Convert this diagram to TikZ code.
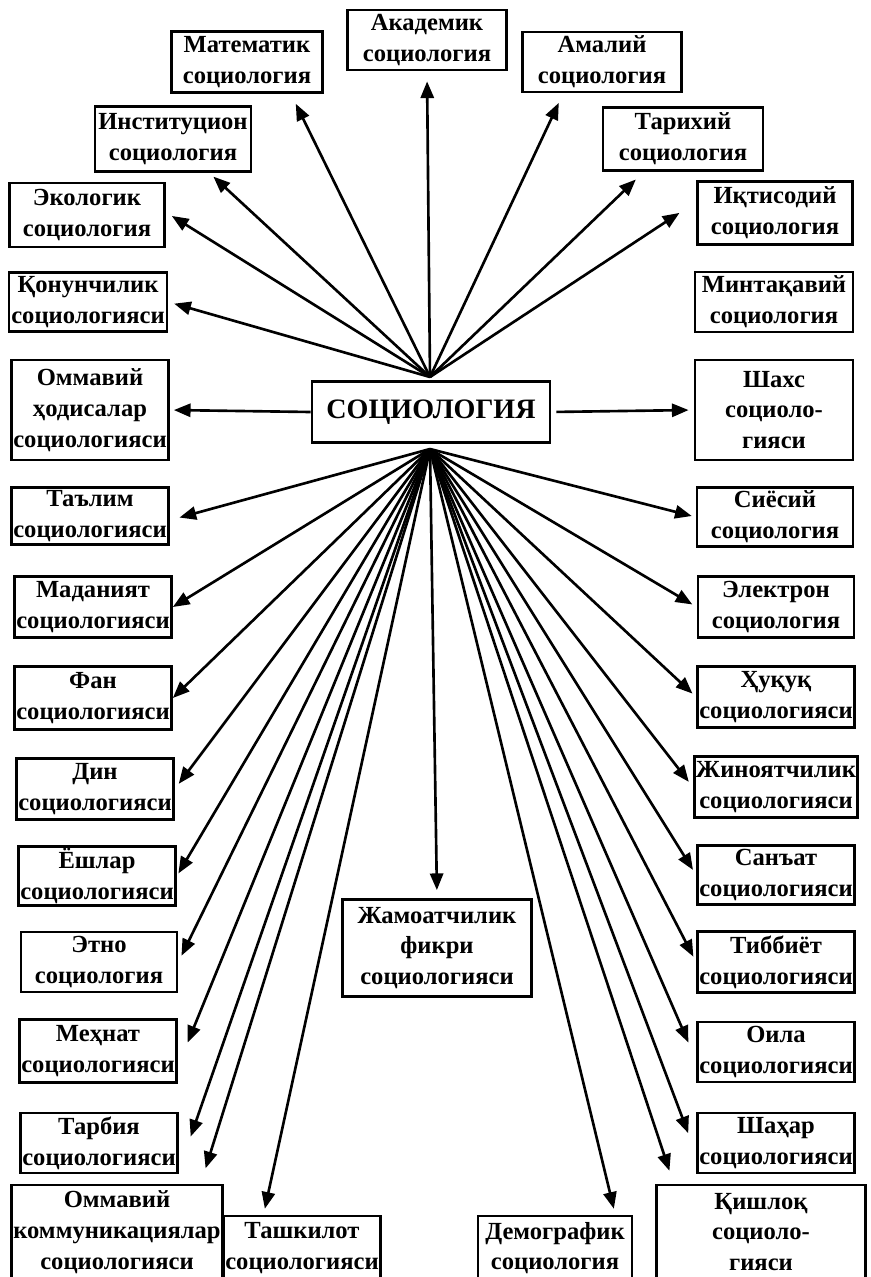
\documentclass[tikz,border=0pt]{standalone}
\usepackage{fontspec}
\setmainfont{Liberation Serif}
\usetikzlibrary{arrows.meta}
\tikzset{>={Triangle[length=9.5pt,width=7.5pt]}}
\tikzset{
  soha/.style={draw, line width=1.6pt, align=center, inner sep=1pt,
    minimum width=3.12cm, minimum height=1.22cm,
    font=\bfseries\fontsize{14}{17.5}\selectfont},
  uch/.style={minimum height=2cm},
  strelka/.style={->, line width=1.5pt}
}

\begin{document}
\begin{tikzpicture}[x=0.02cm,y=-0.02cm]
\useasboundingbox (0,0) rectangle (870,1277);

% markaz
\node[soha, minimum width=4.76cm, font=\bfseries\fontsize{16}{19}\selectfont] (soc) at (431,412) {СОЦИОЛОГИЯ};
\coordinate (hubN) at (430,377);
\coordinate (hubS) at (430,449);

% yuqori qism
\node[soha, minimum width=3.18cm, minimum height=1.2cm] (aka) at (427,40) {Академик\\социология};
\node[soha, minimum width=3.02cm] (mat) at (247,62) {Математик\\социология};
\node[soha, minimum width=3.18cm, minimum height=1.2cm] (ama) at (602,62) {Амалий\\социология};
\node[soha, minimum height=1.3cm] (ins) at (173,139) {Институцион\\социология};
\node[soha, minimum width=3.2cm, minimum height=1.26cm] (tar) at (683,139) {Тарихий\\социология};
\node[soha, minimum width=3.1cm, minimum height=1.28cm] (eko) at (87,215) {Экологик\\социология};
\node[soha, minimum width=3.1cm, minimum height=1.26cm] (iqt) at (775,213) {Иқтисодий\\социология};
\node[soha, minimum width=3.16cm, minimum height=1.18cm] (qon) at (88,302) {Қонунчилик\\социологияси};
\node[soha, minimum width=3.16cm, minimum height=1.2cm] (min) at (774,302) {Минтақавий\\социология};

% o'rta qator
\node[soha, uch] (omm) at (90,410) {Оммавий\\ҳодисалар\\социологияси};
\node[soha, uch, minimum width=3.16cm] (sha) at (774,410) {Шахс\\социоло-\\гияси};
\node[soha, minimum height=1.14cm] (tal) at (90,516) {Таълим\\социологияси};
\node[soha, minimum height=1.18cm] (sie) at (775,517) {Сиёсий\\социология};

% chap ustun
\node[soha] (mad) at (93,607) {Маданият\\социологияси};
\node[soha, minimum height=1.26cm] (fan) at (93,698) {Фан\\социологияси};
\node[soha] (din) at (95,789) {Дин\\социологияси};
\node[soha, minimum height=1.16cm] (yos) at (97,876) {Ёшлар\\социологияси};
\node[soha, minimum height=1.2cm] (etn) at (99,962) {Этно\\социология};
\node[soha, minimum width=3cm, minimum height=1.26cm] (meh) at (98,1051) {Меҳнат\\социологияси};
\node[soha, minimum width=2.96cm, minimum height=1.2cm] (tarb) at (99,1143) {Тарбия\\социологияси};

% o'ng ustun
\node[soha] (ele) at (776,607) {Электрон\\социология};
\node[soha] (huq) at (776,697) {Ҳуқуқ\\социологияси};
\node[soha] (jin) at (776,787) {Жиноятчилик\\социологияси};
\node[soha, minimum height=1.18cm] (san) at (776,875) {Санъат\\социологияси};
\node[soha] (tib) at (776,962) {Тиббиёт\\социологияси};
\node[soha, minimum width=3.04cm, minimum height=1.2cm] (oil) at (776,1052) {Оила\\социологияси};
\node[soha, minimum width=3.04cm, minimum height=1.2cm] (shah) at (776,1143) {Шаҳар\\социологияси};

% pastki qism
\node[soha, minimum width=3.78cm, minimum height=1.94cm] (jam) at (437,948) {Жамоатчилик\\фикри\\социологияси};
\node[soha, minimum width=4.2cm, minimum height=1.88cm] (kom) at (117,1232) {Оммавий\\коммуникациялар\\социологияси};
\node[soha, minimum width=2.4cm, minimum height=1.28cm] (tas) at (302,1248) {Ташкилот\\социологияси};
\node[soha, minimum width=3.08cm, minimum height=1.28cm] (dem) at (555,1248) {Демографик\\социология};
\node[soha, minimum width=4.18cm, minimum height=1.88cm] (qis) at (761,1232) {Қишлоқ\\социоло-\\гияси};

% strelkalar
\foreach \t/\s in {aka.south/0.2cm, mat.-36/0.22cm, ama.-141/0.21cm, ins.-43/0.11cm,
    tar.-140/0.22cm, eko.2/0.14cm, iqt.172/0.4cm, qon.east/0.12cm}
  \draw[strelka, shorten >=\s] (hubN) -- (\t);
\foreach \t/\s in {tal.-3/0.2cm, sie.west/0.08cm, mad.east/0pt, ele.west/0.1cm,
    fan.east/0pt, huq.west/0.1cm, din.east/0.13cm, jin.west/0.13cm,
    yos.east/0.06cm, san.west/0.12cm, etn.east/0.14cm, tib.west/0.12cm,
    jam.north/0.16cm, meh.-11/0.52cm, oil.186/0.39cm, tarb.-19/0.72cm,
    shah.188/0.45cm, kom.30/0.32cm, tas.139/0.12cm, dem.29/0.12cm, qis.151/0.27cm}
  \draw[strelka, shorten >=\s] (hubS) -- (\t);
\draw[strelka, shorten >=0.08cm] (soc.west) -- (omm.east);
\draw[strelka, shorten <=0.1cm, shorten >=0.1cm] (soc.east) -- (sha.west);

\end{tikzpicture}
\end{document}
